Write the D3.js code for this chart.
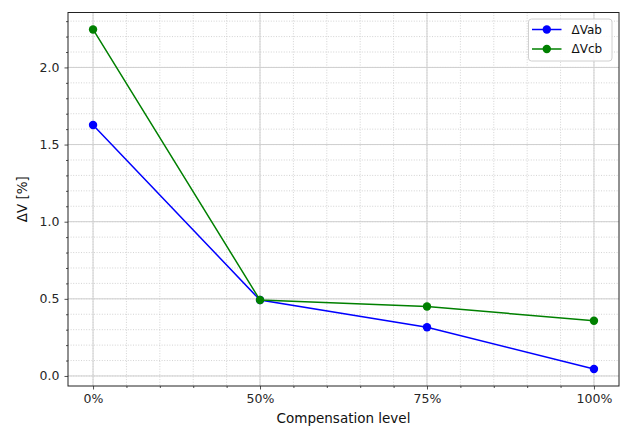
<!DOCTYPE html>
<html>
<head>
<meta charset="utf-8">
<script src="https://cdn.jsdelivr.net/npm/d3@7"></script>
<style>
  body { margin: 0; background: #fff; }
  svg text { font-family: "DejaVu Sans", sans-serif; }
</style>
</head>
<body>
<div id="chart"></div>
<script>
// data
var levels = ["0%", "50%", "75%", "100%"];
var dVab = [1.627, 0.492, 0.316, 0.045];
var dVcb = [2.246, 0.492, 0.450, 0.358];
var seriesNames = ["\u0394Vab", "\u0394Vcb"];
var seriesColors = ["#0000ff", "#008000"];
var yTicks = [0.0, 0.5, 1.0, 1.5, 2.0];

var W = 624, H = 426;
var margin = {top: 12.5, right: 5, bottom: 40, left: 68};
var width = W - margin.left - margin.right,
    height = H - margin.top - margin.bottom;

var svg = d3.select("#chart").append("svg")
    .attr("width", W)
    .attr("height", H)
  .append("g")
    .attr("transform", "translate(" + margin.left + "," + margin.top + ")");

// x is the category index, padded like matplotlib (5%)
var x = d3.scaleLinear()
    .domain([-0.15, levels.length - 1 + 0.15])
    .range([0, width]);

var allVals = dVab.concat(dVcb);
var ymin = d3.min(allVals), ymax = d3.max(allVals), pad = (ymax - ymin) * 0.05;
var y = d3.scaleLinear()
    .domain([ymin - pad, ymax + pad])
    .range([height, 0]);

// minor grid
var xMinor = d3.range(0, levels.length - 1 + 0.001, 0.2).map(function(v) { return +v.toFixed(2); });
var yMinor = d3.range(0, 2.35, 0.1).map(function(v) { return +v.toFixed(2); });

svg.append("g").selectAll("line")
    .data(xMinor)
    .enter().append("line")
    .attr("x1", function(d) { return x(d); })
    .attr("x2", function(d) { return x(d); })
    .attr("y1", 0).attr("y2", height)
    .style("stroke", "#c8c8c8")
    .style("stroke-width", 0.8)
    .style("stroke-dasharray", "1,1.6");

svg.append("g").selectAll("line")
    .data(yMinor)
    .enter().append("line")
    .attr("y1", function(d) { return y(d); })
    .attr("y2", function(d) { return y(d); })
    .attr("x1", 0).attr("x2", width)
    .style("stroke", "#c8c8c8")
    .style("stroke-width", 0.8)
    .style("stroke-dasharray", "1,1.6");

// major grid
svg.append("g").selectAll("line")
    .data(d3.range(levels.length))
    .enter().append("line")
    .attr("x1", function(d) { return x(d); })
    .attr("x2", function(d) { return x(d); })
    .attr("y1", 0).attr("y2", height)
    .style("stroke", "#cfcfcf")
    .style("stroke-width", 1);

svg.append("g").selectAll("line")
    .data(yTicks)
    .enter().append("line")
    .attr("y1", function(d) { return y(d); })
    .attr("y2", function(d) { return y(d); })
    .attr("x1", 0).attr("x2", width)
    .style("stroke", "#cfcfcf")
    .style("stroke-width", 1);

// axes
var xAxis = svg.append("g")
    .attr("transform", "translate(0," + height + ")")
    .call(d3.axisBottom(x)
        .tickValues(d3.range(levels.length))
        .tickFormat(function(i) { return levels[i]; })
        .tickSize(3.5).tickPadding(5));
svg.append("g")
    .attr("transform", "translate(0," + height + ")")
    .call(d3.axisBottom(x).tickValues(xMinor.filter(function(v) { return v % 1 !== 0; }))
        .tickFormat("").tickSize(2))
    .select(".domain").remove();

var yAxis = svg.append("g")
    .call(d3.axisLeft(y)
        .tickValues(yTicks)
        .tickFormat(d3.format(".1f"))
        .tickSize(3.5).tickPadding(5));
svg.append("g")
    .call(d3.axisLeft(y).tickValues(yMinor.filter(function(v) { return Math.round(v * 10) % 5 !== 0; }))
        .tickFormat("").tickSize(2))
    .select(".domain").remove();

svg.selectAll(".domain").remove();
svg.selectAll(".tick text")
    .style("font-size", "12.5px")
    .style("fill", "#262626");
svg.selectAll(".tick line").style("stroke", "#262626").style("stroke-width", 0.8);

// frame
svg.append("rect")
    .attr("x", 0).attr("y", 0)
    .attr("width", width).attr("height", height)
    .style("fill", "none")
    .style("stroke", "#222")
    .style("stroke-width", 1);

// lines
[dVab, dVcb].forEach(function(vals, k) {
    var line = d3.line()
        .x(function(d, i) { return x(i); })
        .y(function(d) { return y(d); });
    svg.append("path")
        .datum(vals)
        .attr("d", line)
        .style("fill", "none")
        .style("stroke", seriesColors[k])
        .style("stroke-width", 1.5);
    svg.selectAll(".pt" + k)
        .data(vals)
        .enter().append("circle")
        .attr("cx", function(d, i) { return x(i); })
        .attr("cy", function(d) { return y(d); })
        .attr("r", 4.2)
        .style("fill", seriesColors[k]);
});

// axis labels
svg.append("text")
    .attr("x", x(1.5))
    .attr("y", height + 37)
    .attr("text-anchor", "middle")
    .style("font-size", "13.5px")
    .style("fill", "#111")
    .text("Compensation level");

svg.append("text")
    .attr("transform", "translate(" + (-41) + "," + (height / 2) + ") rotate(-90)")
    .attr("text-anchor", "middle")
    .style("font-size", "13.5px")
    .style("fill", "#111")
    .text("\u0394V [%]");

// legend
var lg = svg.append("g")
    .attr("transform", "translate(" + (width - 90.5) + ",6.5)");
lg.append("rect")
    .attr("width", 83.5).attr("height", 42)
    .attr("rx", 3)
    .style("fill", "#fff").style("fill-opacity", 0.85)
    .style("stroke", "#d0d0d0");
seriesNames.forEach(function(name, k) {
    var row = lg.append("g").attr("transform", "translate(0," + (10.5 + k * 19.5) + ")");
    row.append("line")
        .attr("x1", 3.5).attr("x2", 33)
        .style("stroke", seriesColors[k]).style("stroke-width", 1.5);
    row.append("circle").attr("cx", 18.3).attr("r", 4.2).style("fill", seriesColors[k]);
    row.append("text")
        .attr("x", 43).attr("dy", "0.35em")
        .style("font-size", "12px")
        .style("fill", "#111")
        .text(name);
});
</script>
</body>
</html>
